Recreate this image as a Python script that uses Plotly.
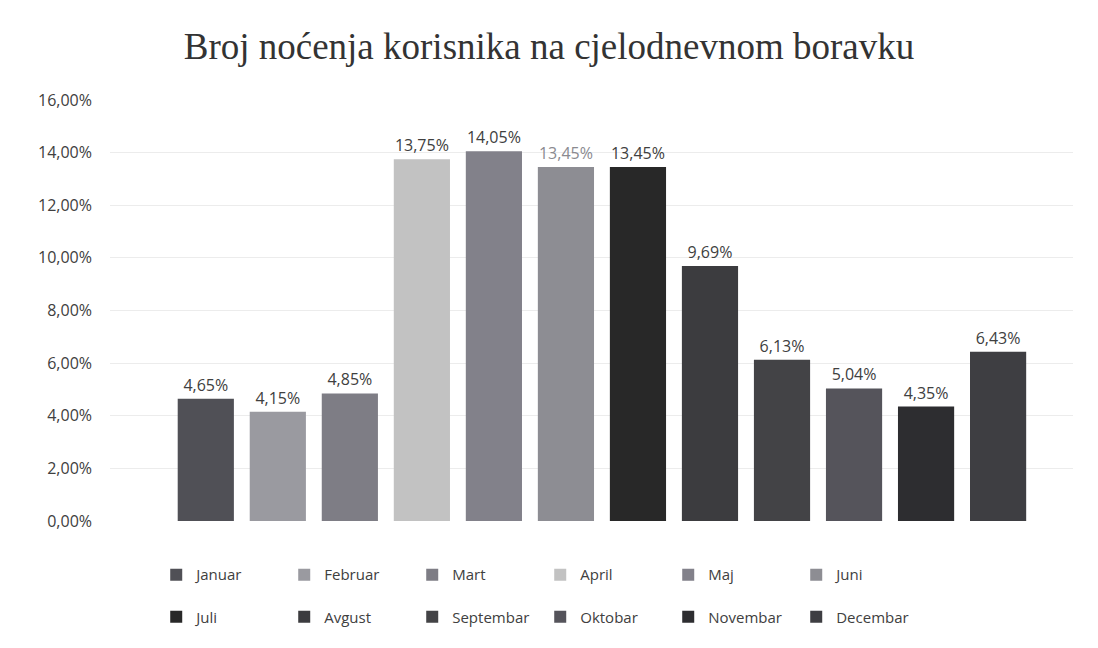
import plotly.graph_objects as go

months = ["Januar", "Februar", "Mart", "April", "Maj", "Juni",
          "Juli", "Avgust", "Septembar", "Oktobar", "Novembar", "Decembar"]
values = [0.0465, 0.0415, 0.0485, 0.1375, 0.1405, 0.1345,
          0.1345, 0.0969, 0.0613, 0.0504, 0.0435, 0.0643]
colors = ["#505056", "#9a9aa0", "#7e7d85", "#c2c2c2", "#82818a", "#8d8d93",
          "#282828", "#3c3c3f", "#434346", "#55545b", "#2d2d30", "#3e3e42"]
label_colors = ["#404040"] * 5 + ["#8a8a90"] + ["#404040"] * 6

tick_vals = [0, 0.02, 0.04, 0.06, 0.08, 0.10, 0.12, 0.14, 0.16]

fig = go.Figure()
for i, (m, v, c, lc) in enumerate(zip(months, values, colors, label_colors)):
    fig.add_trace(go.Bar(
        x=[m], y=[v], name=m,
        marker=dict(color=c, line=dict(width=0)),
        width=0.78,
        text=[v], texttemplate="%{y:.2%}", textposition="outside",
        textfont=dict(family="Open Sans", size=16, color=lc),
        cliponaxis=False,
        legend="legend" if i < 6 else "legend2",
    ))

legend_common = dict(
    orientation="h", xanchor="left", yanchor="middle",
    font=dict(family="Open Sans", size=15, color="#404040"),
    entrywidth=83, entrywidthmode="pixels",
    bgcolor="rgba(0,0,0,0)", traceorder="normal",
)

fig.update_layout(
    width=1098, height=648,
    paper_bgcolor="white", plot_bgcolor="white",
    separators=",.",
    barmode="overlay",
    margin=dict(l=110, r=25, t=100, b=127),
    title=dict(text="Broj noćenja korisnika na cjelodnevnom boravku",
               x=0.5, xanchor="center", y=1 - 46 / 648, yanchor="middle",
               font=dict(family="Liberation Serif", size=37, color="#333333")),
    xaxis=dict(type="category", categoryorder="array", categoryarray=months,
               range=[-1.33, 12.04], showticklabels=False, showgrid=False,
               zeroline=False, showline=False),
    yaxis=dict(range=[0, 0.16], tickvals=tick_vals, tickformat=".2%",
               showgrid=True, gridcolor="#ececec", gridwidth=1,
               zeroline=False, showline=False, ticks="",
               ticklabelstandoff=17,
               tickfont=dict(family="Open Sans", size=16, color="#404040")),
    legend=dict(x=0.048, y=-0.128, **legend_common),
    legend2=dict(x=0.048, y=-0.228, **legend_common),
    showlegend=True,
)

fig.write_html("out.html", config={"displayModeBar": False},
               post_script="document.body.style.margin='0';")
